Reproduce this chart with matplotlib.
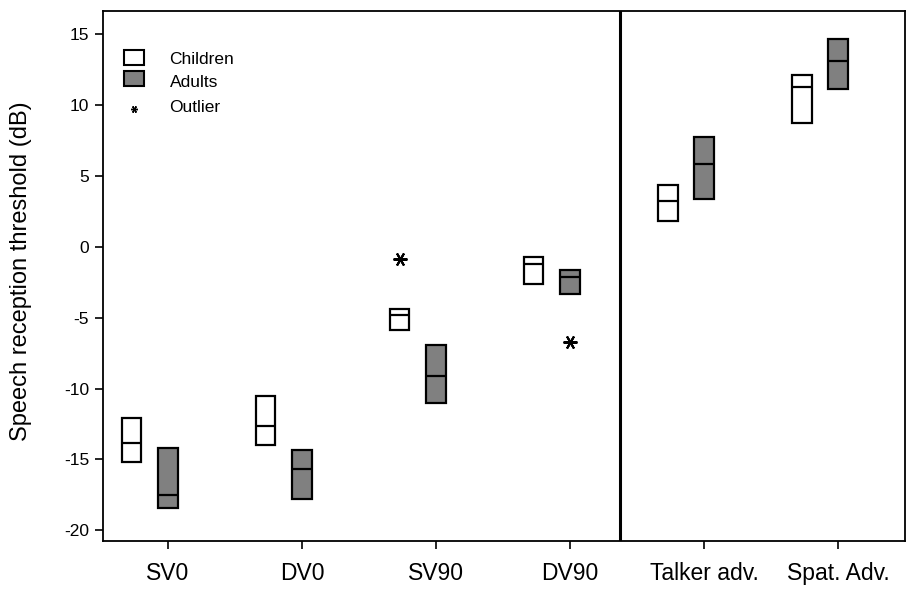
import numpy as np
import matplotlib
matplotlib.use("Agg")
import matplotlib.pyplot as plt

plt.rcParams['font.family'] = ['Liberation Sans', 'DejaVu Sans']

conditions = ["SV0", "DV0", "SV90", "DV90", "Talker adv.", "Spat. Adv."]
# box ranges (low, median, high)
child_low = [-15.15, -14.0, -5.85, -2.6, 1.8, 8.75]
child_med = [-13.85, -12.65, -4.8, -1.2, 3.25, 11.25]
child_high = [-12.05, -10.5, -4.4, -0.7, 4.35, 12.1]
adult_low = [-18.4, -17.8, -11.0, -3.35, 3.35, 11.1]
adult_med = [-17.5, -15.65, -9.1, -2.15, 5.85, 13.1]
adult_high = [-14.2, -14.35, -6.9, -1.65, 7.7, 14.65]
# outliers: (condition index, group, value)
outlier_cond = [2, 3]
outlier_group = ["child", "adult"]
outlier_val = [-0.85, -6.75]

x = np.arange(1, len(conditions) + 1)
off_child = -0.27
w = 0.145

fig = plt.figure(figsize=(9.11, 5.90), dpi=100)
ax = fig.add_axes([0.113, 0.083, 0.8804, 0.898])

cl = np.array(child_low); ch = np.array(child_high)
al = np.array(adult_low); ah = np.array(adult_high)
ax.bar(x + off_child, ch - cl, bottom=cl, width=w, color='white',
       edgecolor='black', linewidth=1.6, zorder=3)
ax.bar(x, ah - al, bottom=al, width=w, color='#808080',
       edgecolor='black', linewidth=1.6, zorder=3)
ax.hlines(child_med, x + off_child - w / 2, x + off_child + w / 2,
          color='black', linewidth=1.6, zorder=4)
ax.hlines(adult_med, x - w / 2, x + w / 2, color='black', linewidth=1.6, zorder=4)

for ci, g, v in zip(outlier_cond, outlier_group, outlier_val):
    xo = x[ci] + (off_child if g == "child" else 0)
    ax.plot(xo, v, marker=(6, 2, 90), markersize=10, color='black',
            markeredgewidth=1.5, zorder=5)

ax.axvline(4.37, color='black', linewidth=2.2)

ax.set_xlim(0.515, 6.5)
ax.set_ylim(-20.75, 16.6)
ax.set_xticks(x)
ax.set_xticklabels(conditions, fontsize=16.5)
ax.set_yticks(np.arange(-20, 16, 5))
ax.set_yticklabels([str(v) for v in range(-20, 16, 5)], fontsize=12.5)
ax.tick_params(axis='both', direction='out', length=6, width=1.2, color='black')
ax.tick_params(axis='x', pad=9)
ax.tick_params(axis='y', pad=4)
ax.set_ylabel("Speech reception threshold (dB)", fontsize=17, labelpad=14)
ax.yaxis.set_label_coords(-0.088, 0.51)
for s in ax.spines.values():
    s.set_linewidth(1.3)

# legend drawn by hand in axes fraction
lx = 0.026
ax.add_patch(plt.Rectangle((lx, 0.898), 0.025, 0.028, transform=ax.transAxes,
                           facecolor='white', edgecolor='black', linewidth=1.5))
ax.add_patch(plt.Rectangle((lx, 0.859), 0.025, 0.029, transform=ax.transAxes,
                           facecolor='#808080', edgecolor='black', linewidth=1.5))
ax.plot(lx + 0.0125, 0.815, transform=ax.transAxes, marker=(6, 2, 90),
        markersize=5, color='black', markeredgewidth=1)
ax.text(0.083, 0.909, "Children", transform=ax.transAxes, fontsize=12.5, va='center')
ax.text(0.083, 0.865, "Adults", transform=ax.transAxes, fontsize=12.5, va='center')
ax.text(0.083, 0.818, "Outlier", transform=ax.transAxes, fontsize=12.5, va='center')

fig.savefig("out.png", dpi=100)
